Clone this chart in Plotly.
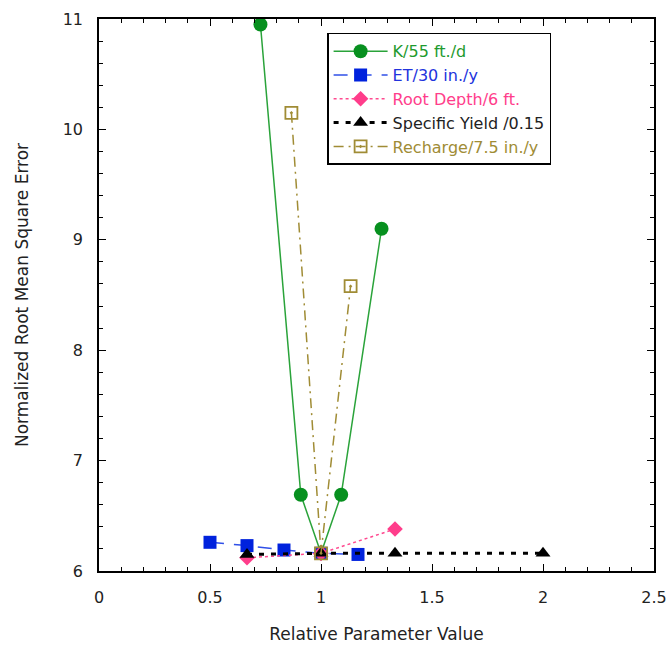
import plotly.graph_objects as go

# Relative parameter values (parameter / calibrated value) and normalized RMSE
k_x = [40/55, 50/55, 1.0, 60/55, 70/55]
k_y = [10.95, 6.69, 6.16, 6.69, 9.10]

et_x = [15/30, 20/30, 25/30, 1.0, 35/30]
et_y = [6.26, 6.23, 6.19, 6.16, 6.15]

rd_x = [4/6, 1.0, 8/6]
rd_y = [6.12, 6.16, 6.38]

sy_x = [0.10/0.15, 1.0, 0.20/0.15, 0.30/0.15]
sy_y = [6.15, 6.16, 6.16, 6.16]

rc_x = [6.5/7.5, 1.0, 8.5/7.5]
rc_y = [10.15, 6.16, 8.58]

names = ["K/55 ft./d", "ET/30 in./y", "Root Depth/6 ft.",
         "Specific Yield /0.15", "Recharge/7.5 in./y"]
label_colors = ["#1E9A2E", "#2233DD", "#FF3D8B", "#222222", "#A08C35"]

fig = go.Figure()

fig.add_trace(go.Scatter(
    x=k_x, y=k_y, mode="lines+markers",
    line=dict(color="#2AA33A", width=1.5),
    marker=dict(symbol="circle", size=14, color="#07901F",
                line=dict(width=0))))

fig.add_trace(go.Scatter(
    x=et_x, y=et_y, mode="lines+markers",
    line=dict(color="#3050E8", width=1.5, dash="14px,10px"),
    marker=dict(symbol="square", size=13, color="#0022DD",
                line=dict(width=0))))

fig.add_trace(go.Scatter(
    x=rd_x, y=rd_y, mode="lines+markers",
    line=dict(color="#FF4A90", width=1.5, dash="3px,3px"),
    marker=dict(symbol="diamond", size=12, color="#FF3D8B",
                line=dict(width=0))))

fig.add_trace(go.Scatter(
    x=sy_x, y=sy_y, mode="lines+markers",
    line=dict(color="#000000", width=3, dash="5px,7px"),
    marker=dict(symbol="triangle-up", size=13, color="#000000",
                line=dict(width=0))))

fig.add_trace(go.Scatter(
    x=rc_x, y=rc_y, mode="lines+markers",
    line=dict(color="#A08C35", width=1.5, dash="10px,5px,2px,5px"),
    marker=dict(symbol="square-open-dot", size=12, color="#A08C35",
                line=dict(width=1.8, color="#A08C35"))))

# Legend text coloured to match each series
for tr, nm, c in zip(fig.data, names, label_colors):
    tr.name = f"<span style='color:{c}'>{nm}</span>"

axis_common = dict(
    showline=True, linecolor="#000000", linewidth=1.5, mirror="allticks",
    ticks="inside", ticklen=7, tickwidth=1.2, tickcolor="#000000",
    showgrid=False, zeroline=False, automargin=False,
    tickfont=dict(family="DejaVu Sans", size=16, color="#222222"),
)

fig.update_xaxes(
    range=[0, 2.5],
    tickvals=[0, 0.5, 1, 1.5, 2, 2.5],
    ticktext=["0", "0.5", "1", "1.5", "2", "2.5"],
    minor=dict(dtick=0.1, ticks="inside", ticklen=4, tickcolor="#000000",
               tickwidth=1, showgrid=False),
    title=dict(text="Relative Parameter Value", standoff=22,
               font=dict(family="DejaVu Sans", size=17, color="#222222")),
    ticklabelstandoff=11,
    **axis_common)

fig.update_yaxes(
    range=[6, 11], tick0=6, dtick=1,
    minor=dict(dtick=0.2, ticks="inside", ticklen=4, tickcolor="#000000",
               tickwidth=1, showgrid=False),
    title=dict(text="Normalized Root Mean Square Error", standoff=30,
               font=dict(family="DejaVu Sans", size=17, color="#222222")),
    ticklabelstandoff=11,
    **axis_common)

fig.update_layout(
    width=668, height=648,
    margin=dict(l=99, r=14, t=19, b=77),
    paper_bgcolor="white", plot_bgcolor="white",
    showlegend=True,
    legend=dict(
        x=0.411, y=0.975, xanchor="left", yanchor="top",
        bgcolor="white", bordercolor="#000000", borderwidth=1.5,
        font=dict(family="DejaVu Sans", size=16, color="#222222"),
        itemwidth=54, tracegroupgap=0,
        entrywidth=250, entrywidthmode="pixels",
    ),
)

fig.write_html("out.html")
